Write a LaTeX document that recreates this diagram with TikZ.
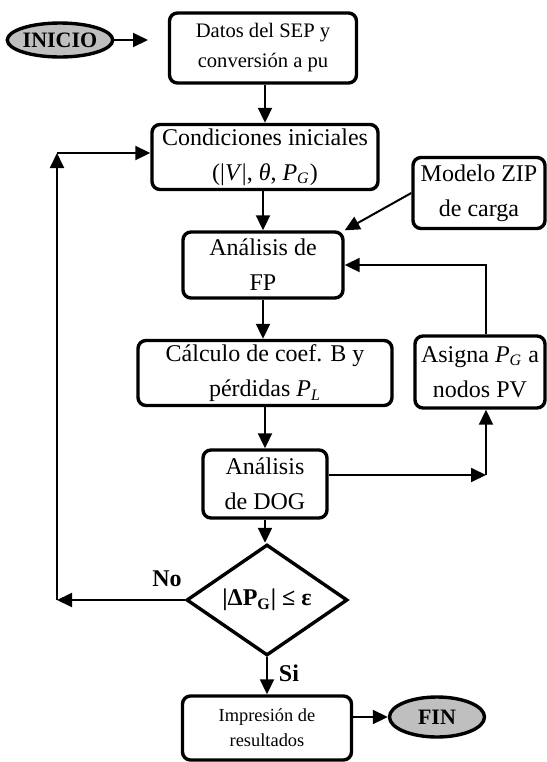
\documentclass[tikz,border=0pt]{standalone}
\usepackage{fontspec}
\setmainfont{Liberation Serif}
\usetikzlibrary{arrows.meta}
\usetikzlibrary{shapes.geometric}
\usetikzlibrary{calc}

\tikzset{
  block/.style={draw, line width=1.7pt, rounded corners=4pt, align=center, inner sep=0pt,
    font=\fontsize{12}{17.5}\selectfont},
  terminal/.style={draw, ellipse, line width=1.7pt, fill=gray!50, inner sep=0pt,
    font=\fontsize{11}{13}\selectfont\bfseries},
  decision/.style={draw, diamond, line width=1.7pt, inner sep=0pt,
    font=\fontsize{12}{14}\selectfont\bfseries},
  flow/.style={->, line width=1pt},
  answer/.style={font=\fontsize{12}{14}\selectfont\bfseries},
}
\newcommand{\PG}{\textit{P}\textsubscript{\textit{G}}}

\begin{document}
\begin{tikzpicture}[x=0.5pt, y=-0.5pt, >={Triangle[length=7.5pt,width=7pt]}]
  \useasboundingbox (0,0) rectangle (547,762);
  %--- Inicio y datos
    \node[terminal, minimum width=49pt, minimum height=17pt] (inicio) at (60,40) {INICIO};
    \node[block, minimum width=93.5pt, minimum height=35pt, font=\fontsize{10.3}{15}\selectfont]
      (datos) at (263,48) {Datos del SEP y\\conversión a pu};
    \draw[flow] (inicio.east) -- (148,40);
  %--- Condiciones iniciales
    \node[block, minimum width=113pt, minimum height=32.5pt] (cond) at (265,157)
      {Condiciones iniciales\\(|\textit{V}|, \textit{θ}, \PG)};
    \draw[flow] (datos.south -| cond.north) -- (cond.north);
  %--- Modelo ZIP
    \node[block, minimum width=66pt, minimum height=35.5pt] (zip) at (479,193)
      {Modelo ZIP\\de carga};
  %--- Flujo de potencia
    \node[block, minimum width=80pt, minimum height=33pt] (fp) at (263,265)
      {Análisis de\\FP};
    \draw[flow] (cond.south -| fp.north) -- (fp.north);
    \draw[flow] (zip.west) -- (fp.north east);
  %--- Coeficientes B
    \node[block, minimum width=127pt, minimum height=32.5pt] (calc) at (265,373)
      {Cálculo de coef. B y\\pérdidas \textit{P}\textsubscript{\textit{L}}};
    \draw[flow] (fp.south) -- (fp.south |- calc.north);
  %--- Asigna PG
    \node[block, minimum width=65pt, minimum height=36pt] (asigna) at (480,372)
      {Asigna \PG{} a\\nodos PV};
  %--- DOG
    \node[block, minimum width=62pt, minimum height=34pt] (dog) at (265,484)
      {Análisis\\de DOG};
    \draw[flow] (calc.south) -- (dog.north);
    \coordinate (dogc) at (486,475);
    \draw[flow] (dog.east |- dogc) -- (dogc);
    \draw[flow] (dogc) -- (asigna.south -| dogc);
    \draw[flow] (asigna.north -| dogc) |- (fp.east);
  %--- Convergencia
    \node[decision, minimum width=80.5pt, minimum height=52pt] (conv) at (267,600)
      {|ΔP\textsubscript{G}| ≤ ε};
    \draw[flow] (dog.south) -- (dog.south |- conv.north);
    \coordinate (back) at (57,600);
    \coordinate (top) at (57,153);
    \draw[flow] (conv.west) -- (back);
    \draw[flow] (back) -- (top);
    \draw[flow] (top) -- (cond.west |- top);
    \node[answer] (no) at (167,579) {No};
  %--- Resultados
    \node[block, minimum width=84.5pt, minimum height=32pt, font=\fontsize{9.2}{12.5}\selectfont]
      (imp) at (267,728) {Impresión de\\resultados};
    \draw[flow] (conv.south) -- (imp.north);
    \node[answer] (si) at (289,673) {Si};
    \node[terminal, minimum width=47.5pt, minimum height=20pt] (fin) at (437,717) {FIN};
    \draw[flow] (imp.east |- fin) -- (fin.west);
\end{tikzpicture}
\end{document}
